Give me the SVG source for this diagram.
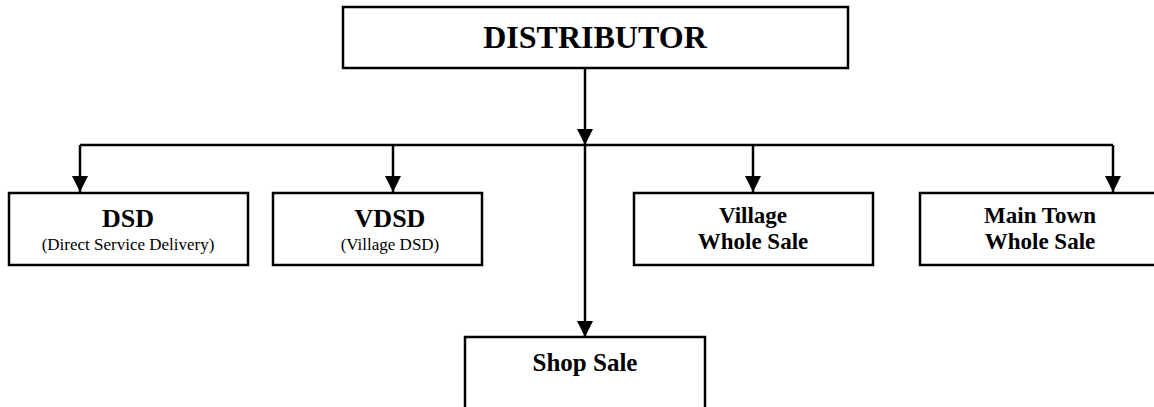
<svg xmlns="http://www.w3.org/2000/svg" width="1154" height="407" viewBox="0 0 1154 407">
<style>
.box{fill:#fff;stroke:#000;stroke-width:2.5}
.ln{fill:none;stroke:#000;stroke-width:2.5}
text{font-family:"Liberation Serif","Times New Roman",serif;fill:#000;text-anchor:middle}
.b{font-weight:bold}
</style>
<defs>
<marker id="ah" markerUnits="userSpaceOnUse" markerWidth="16" markerHeight="16" viewBox="0 0 16 16" refX="16" refY="8" orient="auto">
<path d="M0,0 L16,8 L0,16 Z" fill="#000"/>
</marker>
</defs>
<g id="connectors">
<path class="ln" d="M80,145 H1113"/>
<path class="ln" d="M585,68 V145" marker-end="url(#ah)"/>
<path class="ln" d="M585,145 V337" marker-end="url(#ah)"/>
<path class="ln" d="M80,145 V192" marker-end="url(#ah)"/>
<path class="ln" d="M393,145 V192" marker-end="url(#ah)"/>
<path class="ln" d="M753,145 V192" marker-end="url(#ah)"/>
<path class="ln" d="M1113,145 V192" marker-end="url(#ah)"/>
</g>
<g id="distributor">
<rect class="box" x="343" y="7" width="505" height="61"/>
<text class="b" x="595" y="48" font-size="32">DISTRIBUTOR</text>
</g>
<g id="dsd">
<rect class="box" x="9" y="193" width="239" height="72"/>
<text class="b" x="128" y="227" font-size="26">DSD</text>
<text x="128" y="250" font-size="17">(Direct Service Delivery)</text>
</g>
<g id="vdsd">
<rect class="box" x="273" y="193" width="209" height="72"/>
<text class="b" x="390" y="227" font-size="26">VDSD</text>
<text x="390" y="250" font-size="17">(Village DSD)</text>
</g>
<g id="village">
<rect class="box" x="634" y="193" width="239" height="72"/>
<text class="b" x="753" y="223" font-size="23">Village</text>
<text class="b" x="753" y="249" font-size="23">Whole Sale</text>
</g>
<g id="maintown">
<rect class="box" x="920" y="193" width="240" height="72"/>
<text class="b" x="1040" y="223" font-size="23">Main Town</text>
<text class="b" x="1040" y="249" font-size="23">Whole Sale</text>
</g>
<g id="shop">
<rect class="box" x="465" y="337" width="240" height="80"/>
<text class="b" x="585" y="371" font-size="25">Shop Sale</text>
</g>
</svg>
